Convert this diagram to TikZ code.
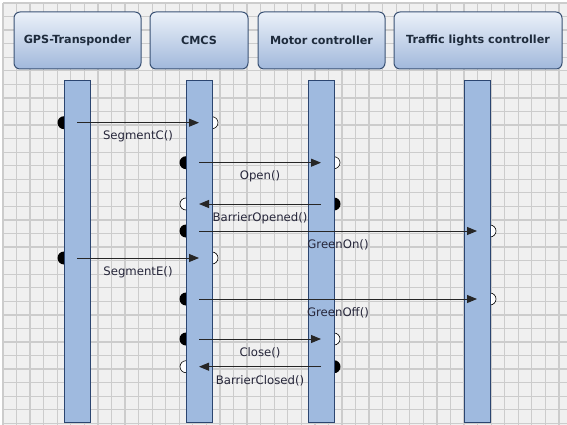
\documentclass[tikz,border=0pt]{standalone}
\usepackage{fontspec}
\setmainfont{DejaVu Sans}
\usepackage{tikz}
\usetikzlibrary{arrows.meta, positioning, calc}

\definecolor{gridbg}{HTML}{F0F0F0}
\definecolor{gridline}{HTML}{CCCCCC}
\definecolor{headtop}{HTML}{EBF1F9}
\definecolor{headbot}{HTML}{A1B8DB}
\definecolor{headdraw}{HTML}{3A5275}
\definecolor{headtext}{HTML}{1E2B3C}
\definecolor{barfill}{HTML}{9FBADF}
\definecolor{bardraw}{HTML}{2B4570}
\definecolor{msgtext}{HTML}{26263A}

\begin{document}
\begin{tikzpicture}[
    x=1pt, y=-1pt,
    header/.style={rectangle, draw=headdraw, line width=1pt, rounded corners=6pt, top color=headtop, bottom color=headbot, minimum height=57pt, inner sep=0pt, font=\fontsize{11.2}{13}\selectfont\bfseries, text=headtext},
    lifeline/.style={rectangle, draw=bardraw, line width=1pt, fill=barfill, minimum width=26pt, minimum height=341pt, inner sep=0pt},
    sendpin/.style={circle, fill=black, minimum size=13pt, inner sep=0pt},
    recvpin/.style={circle, draw=black, fill=white, line width=0.6pt, minimum size=12pt, inner sep=0pt},
    msg/.style={line width=1pt, draw=black!85, -{Triangle[length=10pt, width=8pt]}},
    msglabel/.style={font=\fontsize{11.7}{13}\selectfont, text=msgtext, inner sep=0pt}
]
\useasboundingbox (0,0) rectangle (567,425);

% Grid
\fill[white] (0,0) rectangle (567,425);
\fill[gridbg] (3,3) rectangle (567,425);
\foreach \i in {0,...,41}
    \draw[gridline, line width=1.3pt] ({3+13.56*\i},3) -- ({3+13.56*\i},425);
\foreach \j in {0,...,31}
    \draw[gridline, line width=1.3pt] (3,{3+13.56*\j}) -- (567,{3+13.56*\j});

% Objects
\node[header, minimum width=127pt] (gps) at (77.5,40.5) {GPS-Transponder};
\node[header, minimum width=98pt] (cmcs) at (199,40.5) {CMCS};
\node[header, minimum width=127pt] (motor) at (321.5,40.5) {Motor controller};
\node[header, minimum width=168pt] (traffic) at (478,40.5) {Traffic lights controller};

% Pins (send / receive)
\node[sendpin] (s1) at (64,122.7) {};   \node[recvpin] (r1) at (212,122.7) {};
\node[sendpin] (s2) at (186,162.7) {};  \node[recvpin] (r2) at (334,162.7) {};
\node[sendpin] (s3) at (334,204) {};    \node[recvpin] (r3) at (186,204) {};
\node[sendpin] (s4) at (186,231) {};    \node[recvpin] (r4) at (490,231) {};
\node[sendpin] (s5) at (64,258) {};     \node[recvpin] (r5) at (212,258) {};
\node[sendpin] (s6) at (186,299) {};    \node[recvpin] (r6) at (490,299) {};
\node[sendpin] (s7) at (186,339) {};    \node[recvpin] (r7) at (334,339) {};
\node[sendpin] (s8) at (334,366.7) {};  \node[recvpin] (r8) at (186,366.7) {};

% Lifelines
\node[lifeline] (gpsbar) at (77,251.5) {};
\node[lifeline] (cmcsbar) at (199,251.5) {};
\node[lifeline] (motorbar) at (321,251.5) {};
\node[lifeline] (trafficbar) at (477,251.5) {};

% Messages
\draw[msg] (gpsbar |- s1) -- node[midway, yshift=-14pt, msglabel] {SegmentC()} (cmcsbar |- r1);
\draw[msg] (cmcsbar |- s2) -- node[midway, yshift=-14pt, msglabel] {Open()} (motorbar |- r2);
\draw[msg] (motorbar |- s3) -- node[midway, yshift=-14pt, msglabel] {BarrierOpened()} (cmcsbar |- r3);
\draw[msg] (cmcsbar |- s4) -- node[midway, yshift=-14pt, msglabel] {GreenOn()} (trafficbar |- r4);
\draw[msg] (gpsbar |- s5) -- node[midway, yshift=-14pt, msglabel] {SegmentE()} (cmcsbar |- r5);
\draw[msg] (cmcsbar |- s6) -- node[midway, yshift=-14pt, msglabel] {GreenOff()} (trafficbar |- r6);
\draw[msg] (cmcsbar |- s7) -- node[midway, yshift=-14pt, msglabel] {Close()} (motorbar |- r7);
\draw[msg] (motorbar |- s8) -- node[midway, yshift=-14pt, msglabel] {BarrierClosed()} (cmcsbar |- r8);

\end{tikzpicture}
\end{document}
